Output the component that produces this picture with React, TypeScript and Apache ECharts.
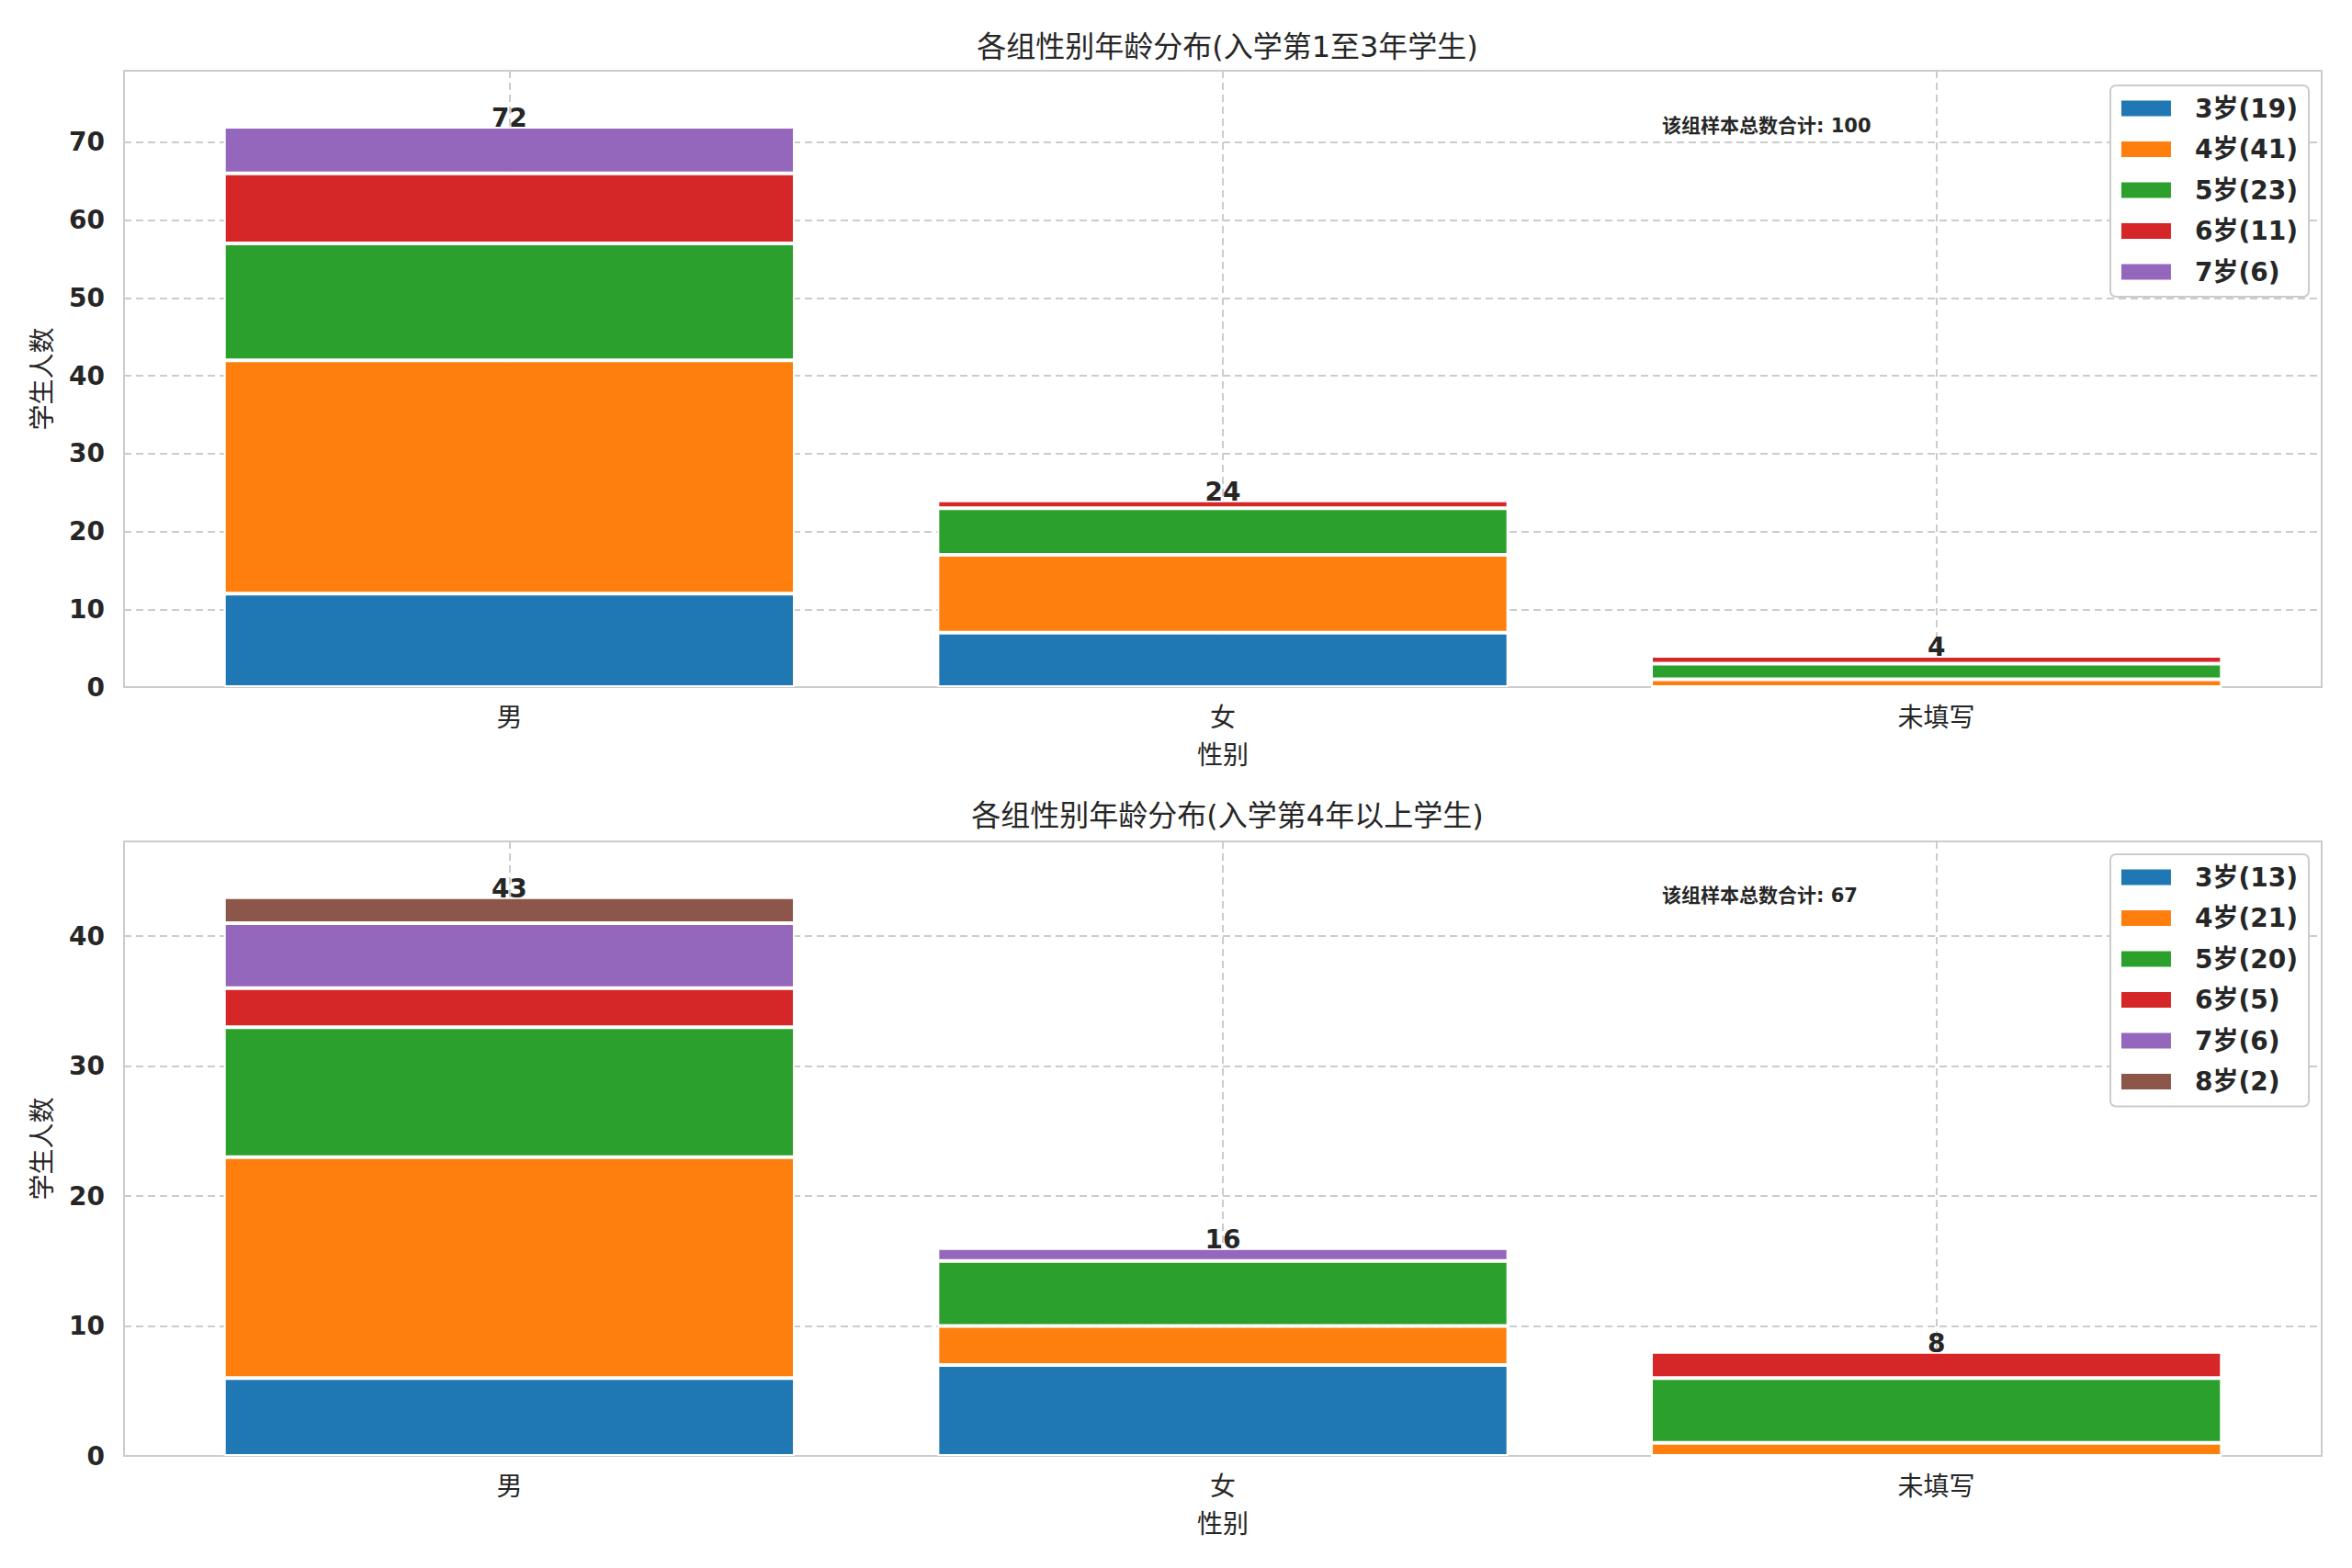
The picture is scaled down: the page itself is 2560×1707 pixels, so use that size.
import React, { useEffect, useRef } from "react";
import * as echarts from "echarts";

const categories = ["男", "女", "未填写"];
const levelNames = ["3岁", "4岁", "5岁", "6岁", "7岁", "8岁"];
const colors = ["#1f77b4", "#ff7f0e", "#2ca02c", "#d62728", "#9467bd", "#8c564b"];

// Top chart: per level, values for [男, 女, 未填写]
const top3 = [12, 7, 0];
const top4 = [30, 10, 1];
const top5 = [15, 6, 2];
const top6 = [9, 1, 1];
const top7 = [6, 0, 0];

// Bottom chart
const bot3 = [6, 7, 0];
const bot4 = [17, 3, 1];
const bot5 = [10, 5, 5];
const bot6 = [3, 0, 2];
const bot7 = [5, 1, 0];
const bot8 = [2, 0, 0];

const titles = ["各组性别年龄分布(入学第1至3年学生)", "各组性别年龄分布(入学第4年以上学生)"];
const xName = "性别";
const yName = "学生人数";
const notePrefix = "该组样本总数合计";

const FONT = "'DejaVu Sans', 'Noto Sans CJK SC', sans-serif";
const TXT = "#262626";

const sum = (a: number[]) => a.reduce((s, v) => s + v, 0);

export default function App() {
  const ref = useRef<HTMLDivElement>(null);
  useEffect(() => {
    document.body.style.margin = "0";
    const chart = echarts.init(ref.current!, null, { renderer: "svg" });
    const LEFT = 135;
    const RIGHT = 33;
    const PAD = 0.54; // x-limits margin around category centers
    const W = 2560 - LEFT - RIGHT;
    const span = categories.length - 1 + 2 * PAD;
    const slot = W / span;
    const inset = (PAD - 0.5) * slot;
    const panels = [
      { data: [top3, top4, top5, top6, top7], top: 77, bottom: 959, legendTop: 93, noteTop: 126, titleTop: 30 },
      { data: [bot3, bot4, bot5, bot6, bot7, bot8], top: 916, bottom: 122, legendTop: 930, noteTop: 964, titleTop: 867 },
    ];
    const grid: any[] = [];
    const xAxis: any[] = [];
    const yAxis: any[] = [];
    const series: any[] = [];
    const legend: any[] = [];
    const title: any[] = [];
    const graphic: any[] = [];
    panels.forEach((p, g) => {
      const totals = categories.map((_, i) => sum(p.data.map((arr) => arr[i])));
      const grand = sum(totals);
      const yMax = Math.max(...totals) * 1.1;
      const outer = 2 * g;
      const inner = 2 * g + 1;
      grid[outer] = {
        left: LEFT,
        right: RIGHT,
        top: p.top,
        bottom: p.bottom,
        show: true,
        borderColor: "#cccccc",
        borderWidth: 2,
        backgroundColor: "#ffffff",
      };
      grid[inner] = {
        left: LEFT + inset,
        right: RIGHT + inset,
        top: p.top,
        bottom: p.bottom,
        show: false,
      };
      xAxis[outer] = {
        type: "value",
        gridIndex: outer,
        min: -PAD,
        max: categories.length - 1 + PAD,
        splitNumber: 3,
        minInterval: 1,
        maxInterval: 1,
        axisLine: { show: false },
        axisTick: { show: false },
        splitLine: { show: true, lineStyle: { type: [8, 5], color: "#cccccc", width: 2 } },
        axisLabel: {
          showMinLabel: false,
          showMaxLabel: false,
          formatter: (v: number) => (Number.isInteger(v) && categories[v] !== undefined ? categories[v] : ""),
          fontSize: 28,
          color: TXT,
          fontFamily: FONT,
          margin: 19,
        },
        name: xName,
        nameLocation: "middle",
        nameGap: 60,
        nameTextStyle: { fontSize: 28, color: TXT, fontFamily: FONT },
      };
      xAxis[inner] = {
        type: "category",
        gridIndex: inner,
        data: categories,
        boundaryGap: true,
        show: false,
      };
      yAxis[outer] = {
        type: "value",
        gridIndex: outer,
        min: 0,
        max: yMax,
        interval: 10,
        axisLine: { show: false },
        axisTick: { show: false },
        splitLine: { show: true, lineStyle: { type: [8, 5], color: "#cccccc", width: 2 } },
        axisLabel: {
          formatter: (v: number) => (v % 10 === 0 ? String(v) : ""),
          showMaxLabel: false,
          fontSize: 28,
          fontWeight: "bold",
          color: TXT,
          fontFamily: FONT,
          margin: 21,
          padding: [7, 0, 0, 0],
        },
        name: yName,
        nameLocation: "middle",
        nameGap: 75,
        nameTextStyle: { fontSize: 28, color: TXT, fontFamily: FONT },
      };
      yAxis[inner] = {
        type: "value",
        gridIndex: inner,
        min: 0,
        max: yMax,
        show: false,
        splitLine: { show: false },
      };
      const names: string[] = [];
      p.data.forEach((arr, k) => {
        const name = `${levelNames[k]}(${sum(arr)})`;
        names.push(name);
        series.push({
          type: "bar",
          name,
          xAxisIndex: inner,
          yAxisIndex: inner,
          stack: "s" + g,
          barWidth: "80%",
          data: arr,
          itemStyle: { color: colors[k], borderColor: "#ffffff", borderWidth: 2 },
        });
      });
      series.push({
        type: "scatter",
        xAxisIndex: outer,
        yAxisIndex: outer,
        data: totals.map((t, i) => [i, t]),
        symbolSize: 0.5,
        itemStyle: { color: TXT, opacity: 1 },
        silent: true,
        z: 10,
        label: {
          show: true,
          position: "top",
          distance: 0,
          offset: [0, 5],
          formatter: (q: any) => String(q.value[1]),
          fontSize: 28,
          fontWeight: "bold",
          color: TXT,
          opacity: 1,
          fontFamily: FONT,
        },
      });
      legend.push({
        data: names.map((n) => ({ name: n, icon: "rect" })),
        orient: "vertical",
        right: 47,
        top: p.legendTop,
        itemWidth: 56,
        itemHeight: 19,
        itemGap: 14.5,
        selectedMode: false,
        backgroundColor: "#ffffff",
        borderColor: "#cccccc",
        borderWidth: 2,
        borderRadius: 6,
        padding: [10, 12, 12, 10],
        textStyle: { fontSize: 28, fontWeight: "bold", color: TXT, fontFamily: FONT, lineHeight: 30, padding: [0, 0, 0, 20] },
      });
      title.push({
        text: titles[g],
        left: 1331,
        textAlign: "center",
        top: p.titleTop,
        textStyle: { fontSize: 32, fontWeight: "normal", color: TXT, fontFamily: FONT },
      });
      graphic.push({
        type: "text",
        left: 1809,
        top: p.noteTop,
        style: { text: `${notePrefix}: ${grand}`, fontSize: 21, fontWeight: "bold", fill: TXT, fontFamily: FONT },
        z: 20,
      });
    });
    chart.setOption({
      animation: false,
      backgroundColor: "#ffffff",
      textStyle: { fontFamily: FONT },
      title,
      grid,
      xAxis,
      yAxis,
      series,
      legend,
      graphic,
    });
    return () => chart.dispose();
  }, []);
  return <div ref={ref} style={{ position: "absolute", left: 0, top: 0, width: 2560, height: 1707 }} />;
}
